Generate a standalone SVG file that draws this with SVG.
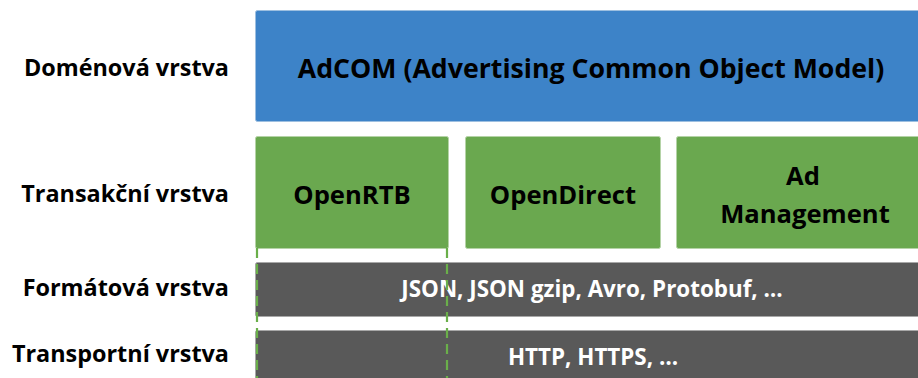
<svg xmlns="http://www.w3.org/2000/svg" width="918" height="378" viewBox="0 0 918 378">
  <style>
    .lbl { font-family: "Open Sans", "Liberation Sans", sans-serif; font-weight: 700; font-size: 23.4px; fill: #000; text-anchor: end; }
    .t { font-family: "Open Sans", "Liberation Sans", sans-serif; font-weight: 700; fill: #000; text-anchor: middle; font-size: 25.6px; }
    .tw { font-family: "Open Sans", "Liberation Sans", sans-serif; font-weight: 700; fill: #fff; text-anchor: middle; font-size: 22.4px; }
    .blue { fill: #3D83C8; stroke: #9DBFE0; stroke-width: 1; }
    .green { fill: #6AA84F; stroke: #B5D3A7; stroke-width: 1; }
    .dark { fill: #595959; stroke: #A8A8A8; stroke-width: 1; }
    .dash { stroke: #6AAF4A; stroke-width: 2.2; stroke-dasharray: 10 6; fill: none; }
  </style>

  <!-- layer names -->
  <g id="labels">
    <text class="lbl" x="229" y="76">Doménová vrstva</text>
    <text class="lbl" x="229" y="202">Transakční vrstva</text>
    <text class="lbl" x="229" y="296">Formátová vrstva</text>
    <text class="lbl" x="229" y="362">Transportní vrstva</text>
  </g>

  <g id="adcom">
    <rect class="blue" x="255.5" y="10.5" width="664" height="111" rx="2"/>
    <text class="t" x="591" y="78" style="font-size:26.7px">AdCOM (Advertising Common Object Model)</text>
  </g>

  <g id="openrtb">
    <rect class="green" x="255.5" y="136.5" width="193" height="112" rx="2"/>
    <text class="t" x="352" y="204">OpenRTB</text>
  </g>

  <g id="opendirect">
    <rect class="green" x="465.5" y="136.5" width="195" height="112" rx="2"/>
    <text class="t" x="563" y="204">OpenDirect</text>
  </g>

  <g id="admanagement">
    <rect class="green" x="676.5" y="136.5" width="243" height="112" rx="2"/>
    <text class="t" x="803" y="185">Ad</text>
    <text class="t" x="805" y="223">Management</text>
  </g>

  <g id="format">
    <rect class="dark" x="255.5" y="262.5" width="664" height="54" rx="2"/>
    <text class="tw" x="592" y="297">JSON, JSON gzip, Avro, Protobuf, …</text>
  </g>

  <g id="transport">
    <rect class="dark" x="255.5" y="330.5" width="664" height="60" rx="2"/>
    <text class="tw" x="593" y="365">HTTP, HTTPS, …</text>
  </g>

  <!-- OpenRTB span lines down through the lower layers -->
  <g id="connectors">
    <line class="dash" x1="257" y1="248" x2="257" y2="378"/>
    <line class="dash" x1="447" y1="248" x2="447" y2="378"/>
  </g>
</svg>
